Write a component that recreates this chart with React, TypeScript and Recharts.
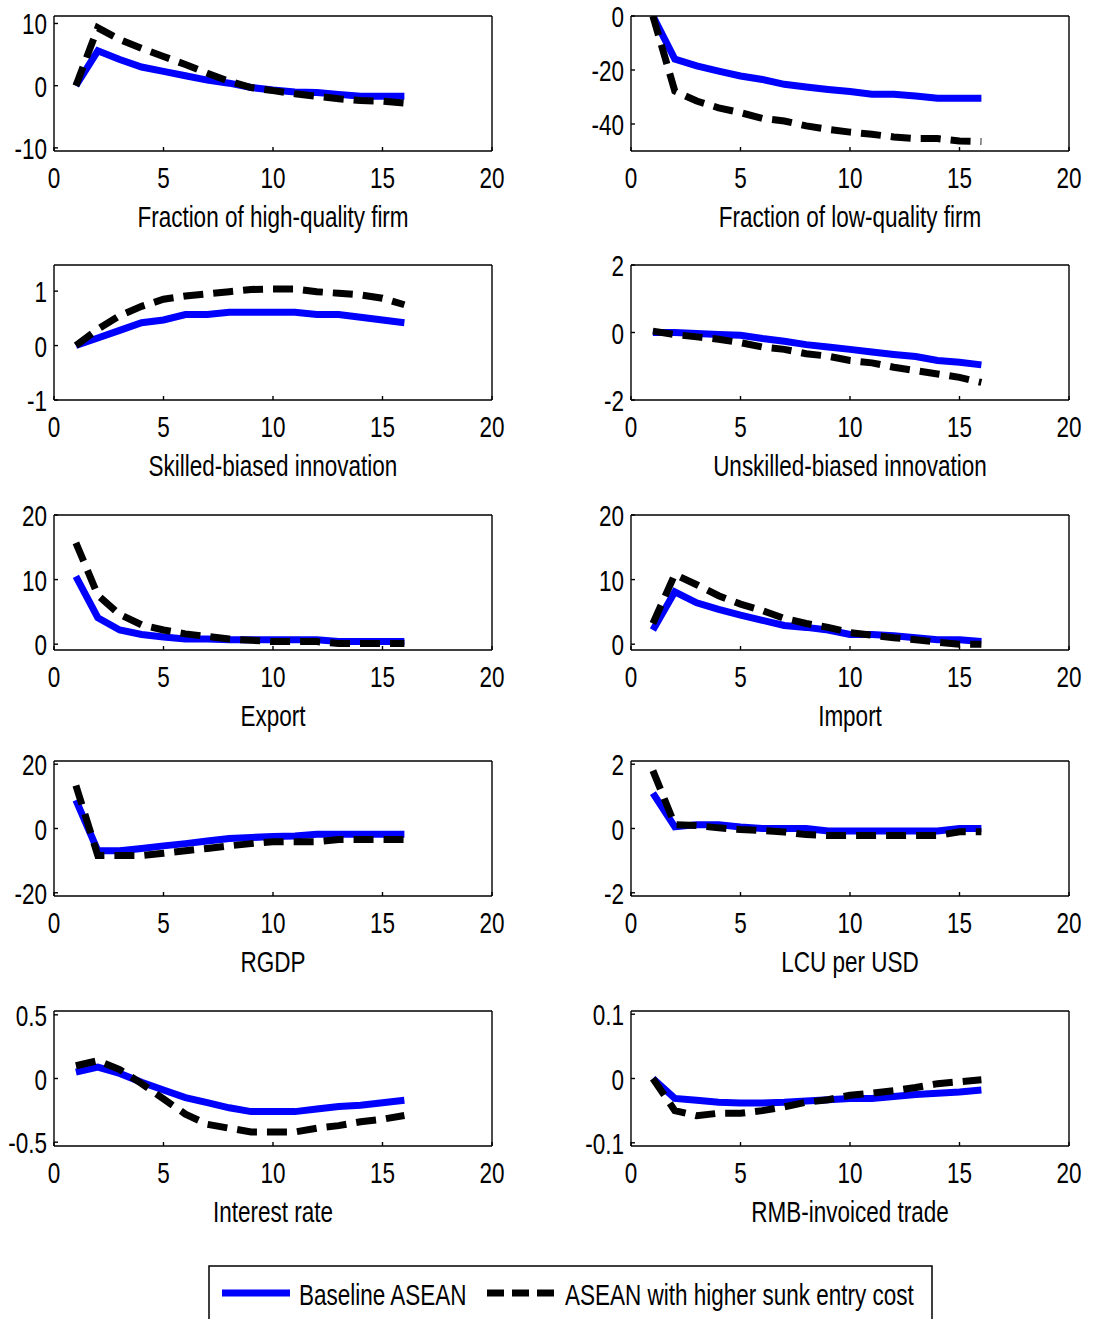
import { Line, LineChart, XAxis, YAxis } from 'recharts';

// Impulse responses, periods 1..16. Baseline vs higher sunk entry cost.
const PERIODS = [1, 2, 3, 4, 5, 6, 7, 8, 9, 10, 11, 12, 13, 14, 15, 16];
const X_TICKS = [0, 5, 10, 15, 20];
const SERIES_NAMES = ['Baseline ASEAN', 'ASEAN with higher sunk entry cost'];

const highQualityBase = [0, 5.6, 4.2, 3.0, 2.3, 1.6, 0.9, 0.4, -0.3, -0.7, -1.0, -1.1, -1.4, -1.7, -1.7, -1.7];
const highQualityCost = [0, 9.3, 7.4, 6.0, 4.7, 3.4, 2.0, 0.7, -0.3, -0.8, -1.3, -1.7, -2.1, -2.4, -2.5, -2.8];

const lowQualityBase = [0, -16, -18.5, -20.4, -22.2, -23.5, -25.3, -26.3, -27.2, -28, -29, -29, -29.6, -30.5, -30.5, -30.5];
const lowQualityCost = [0, -27.8, -31.5, -34, -35.8, -37.9, -38.9, -40.7, -42, -43, -43.8, -44.8, -45.4, -45.4, -46.3, -46.5];

const skilledBase = [0, 0.14, 0.28, 0.42, 0.47, 0.57, 0.57, 0.61, 0.61, 0.61, 0.61, 0.57, 0.57, 0.52, 0.47, 0.42];
const skilledCost = [0, 0.3, 0.55, 0.72, 0.85, 0.91, 0.95, 0.99, 1.03, 1.04, 1.04, 0.99, 0.96, 0.93, 0.87, 0.75];

const unskilledBase = [0, 0, -0.03, -0.06, -0.08, -0.18, -0.26, -0.36, -0.43, -0.5, -0.58, -0.65, -0.71, -0.83, -0.88, -0.96];
const unskilledCost = [0.04, -0.06, -0.13, -0.2, -0.3, -0.43, -0.5, -0.63, -0.7, -0.83, -0.9, -1.03, -1.13, -1.23, -1.33, -1.48];

const exportBase = [10.5, 4.1, 2.2, 1.5, 1.1, 0.8, 0.8, 0.7, 0.7, 0.7, 0.7, 0.7, 0.4, 0.4, 0.4, 0.4];
const exportCost = [15.7, 7.6, 4.6, 3.0, 2.2, 1.6, 1.2, 0.8, 0.6, 0.4, 0.4, 0.4, 0.1, 0.1, 0.1, 0.1];

const importBase = [2.2, 8.1, 6.4, 5.4, 4.5, 3.7, 2.9, 2.6, 2.2, 1.5, 1.5, 1.3, 1.0, 0.7, 0.7, 0.4];
const importCost = [3.2, 10.8, 9.2, 7.5, 6.2, 5.2, 4.0, 3.2, 2.6, 1.8, 1.4, 1.0, 0.7, 0.3, 0, 0];

const rgdpBase = [8.8, -6.9, -6.9, -6.2, -5.4, -4.7, -3.9, -3.1, -2.8, -2.5, -2.3, -1.8, -1.8, -1.8, -1.8, -1.8];
const rgdpCost = [13.4, -8.4, -8.4, -8.4, -7.7, -6.9, -6.2, -5.4, -4.7, -4.1, -4.1, -4.1, -3.4, -3.4, -3.4, -3.4];

const lcuBase = [1.1, 0.05, 0.12, 0.12, 0.05, 0, 0, 0, -0.08, -0.08, -0.08, -0.08, -0.08, -0.08, 0, 0];
const lcuCost = [1.8, 0.12, 0.09, 0.02, -0.03, -0.06, -0.11, -0.19, -0.22, -0.22, -0.22, -0.22, -0.22, -0.22, -0.1, -0.1];

const rateBase = [0.05, 0.09, 0.04, -0.03, -0.09, -0.15, -0.19, -0.23, -0.26, -0.26, -0.26, -0.24, -0.22, -0.21, -0.19, -0.17];
const rateCost = [0.1, 0.14, 0.07, -0.04, -0.16, -0.28, -0.36, -0.39, -0.42, -0.42, -0.42, -0.39, -0.37, -0.34, -0.32, -0.29];

const rmbBase = [0, -0.031, -0.034, -0.037, -0.038, -0.038, -0.037, -0.035, -0.033, -0.031, -0.031, -0.028, -0.025, -0.023, -0.021, -0.018];
const rmbCost = [0, -0.05, -0.058, -0.054, -0.054, -0.05, -0.044, -0.037, -0.033, -0.026, -0.023, -0.019, -0.014, -0.008, -0.005, -0.002];

const PANELS = [
  { title: 'Fraction of high-quality firm', domain: [-10.5, 11.2], ticks: [-10, 0, 10], base: highQualityBase, cost: highQualityCost },
  { title: 'Fraction of low-quality firm', domain: [-50, 0], ticks: [-40, -20, 0], base: lowQualityBase, cost: lowQualityCost },
  { title: 'Skilled-biased innovation', domain: [-1, 1.48], ticks: [-1, 0, 1], base: skilledBase, cost: skilledCost },
  { title: 'Unskilled-biased innovation', domain: [-2, 2], ticks: [-2, 0, 2], base: unskilledBase, cost: unskilledCost },
  { title: 'Export', domain: [-0.9, 20], ticks: [0, 10, 20], base: exportBase, cost: exportCost },
  { title: 'Import', domain: [-0.9, 20], ticks: [0, 10, 20], base: importBase, cost: importCost },
  { title: 'RGDP', domain: [-21, 21], ticks: [-20, 0, 20], base: rgdpBase, cost: rgdpCost },
  { title: 'LCU per USD', domain: [-2.1, 2.1], ticks: [-2, 0, 2], base: lcuBase, cost: lcuCost },
  { title: 'Interest rate', domain: [-0.53, 0.53], ticks: [-0.5, 0, 0.5], base: rateBase, cost: rateCost },
  { title: 'RMB-invoiced trade', domain: [-0.105, 0.105], ticks: [-0.1, 0, 0.1], base: rmbBase, cost: rmbCost },
];

// layout (px, page coordinates)
const PLOT_TOPS = [16, 265, 515, 761, 1011];
const PLOT_LEFTS = [54, 631];
const PLOT_W = 438;
const PLOT_H = 135;
const MARGIN_TOP = 24;
const AXIS_W = 54;
const BOTTOM_H = 90;
const CHART_W = AXIS_W + PLOT_W + 24;
const CHART_H = MARGIN_TOP + PLOT_H + BOTTOM_H;

const FONT = '"Liberation Sans", Arial, Helvetica, sans-serif';
const SQUEEZE = 0.75;
const BLUE = '#0000ff';
const DASH = '20 10';
const LINE_W = 7;

function XTick(props: any) {
  const { x, y, payload } = props;
  return (
    <text
      transform={`translate(${x},${y + 37}) scale(${SQUEEZE},1)`}
      textAnchor="middle"
      fontSize={30}
      fontFamily={FONT}
      fill="#000"
    >
      {payload.value}
    </text>
  );
}

function YTick(props: any) {
  const { x, y, payload } = props;
  return (
    <text
      transform={`translate(${x},${y + 11}) scale(${SQUEEZE},1)`}
      textAnchor="end"
      fontSize={30}
      fontFamily={FONT}
      fill="#000"
    >
      {payload.value}
    </text>
  );
}

function Panel({ panel, left, top }: { panel: (typeof PANELS)[number]; left: number; top: number }) {
  const rows = PERIODS.map((t, i) => ({ t, base: panel.base[i], cost: panel.cost[i] }));
  const titleLabel = (p: any) => {
    const vb = p.viewBox;
    return (
      <text
        transform={`translate(${vb.x + vb.width / 2},${vb.y + 76}) scale(${SQUEEZE},1)`}
        textAnchor="middle"
        fontSize={30}
        fontFamily={FONT}
        fill="#000"
      >
        {panel.title}
      </text>
    );
  };
  const axisLine = { stroke: '#000', strokeWidth: 1.4 };
  const tickLine = { stroke: '#000', strokeWidth: 1.4 };
  return (
    <div style={{ position: 'absolute', left: left - AXIS_W, top: top - MARGIN_TOP }}>
      <LineChart width={CHART_W} height={CHART_H} data={rows} margin={{ top: MARGIN_TOP - 1, right: CHART_W - AXIS_W - PLOT_W - 1, bottom: 0, left: 0 }}>
        <XAxis
          xAxisId="main"
          dataKey="t"
          type="number"
          domain={[0, 20]}
          ticks={X_TICKS}
          allowDataOverflow
          height={BOTTOM_H}
          tickSize={-4}
          tickMargin={4}
          tick={<XTick />}
          axisLine={axisLine}
          tickLine={tickLine}
          interval={0}
          label={titleLabel}
        />
        <XAxis
          xAxisId="top"
          dataKey="t"
          orientation="top"
          type="number"
          domain={[0, 20]}
          ticks={X_TICKS}
          allowDataOverflow
          height={1}
          tickSize={-4}
          tick={false}
          axisLine={axisLine}
          tickLine={tickLine}
          interval={0}
        />
        <YAxis
          yAxisId="main"
          type="number"
          domain={panel.domain}
          ticks={panel.ticks}
          allowDataOverflow
          width={AXIS_W}
          tickSize={-4}
          tickMargin={11}
          tick={<YTick />}
          axisLine={axisLine}
          tickLine={tickLine}
          interval={0}
        />
        <YAxis
          yAxisId="right"
          orientation="right"
          type="number"
          domain={panel.domain}
          ticks={panel.ticks}
          allowDataOverflow
          width={1}
          tickSize={-4}
          tick={false}
          axisLine={axisLine}
          tickLine={tickLine}
          interval={0}
        />
        <Line
          xAxisId="main"
          yAxisId="main"
          type="linear"
          dataKey="base"
          name={SERIES_NAMES[0]}
          stroke={BLUE}
          strokeWidth={LINE_W}
          dot={false}
          isAnimationActive={false}
        />
        <Line
          xAxisId="main"
          yAxisId="main"
          type="linear"
          dataKey="cost"
          name={SERIES_NAMES[1]}
          stroke="#000"
          strokeWidth={LINE_W}
          strokeDasharray={DASH}
          dot={false}
          isAnimationActive={false}
        />
      </LineChart>
    </div>
  );
}

function LegendBox() {
  const txt = (x: number, s: string) => (
    <text transform={`translate(${x},40) scale(${SQUEEZE},1)`} fontSize={30} fontFamily={FONT} fill="#000">
      {s}
    </text>
  );
  return (
    <svg style={{ position: 'absolute', left: 208, top: 1265 }} width={726} height={60}>
      <rect x={1} y={1} width={723} height={70} fill="#fff" stroke="#000" strokeWidth={1.5} />
      <line x1={14} x2={82} y1={28} y2={28} stroke={BLUE} strokeWidth={LINE_W} />
      {txt(91, SERIES_NAMES[0])}
      <line x1={279} x2={347} y1={28} y2={28} stroke="#000" strokeWidth={LINE_W} strokeDasharray="17 8" />
      {txt(357, SERIES_NAMES[1])}
    </svg>
  );
}

export default function App() {
  return (
    <div style={{ position: 'absolute', left: 0, top: 0, width: 1093, height: 1319, background: '#fff', overflow: 'hidden' }}>
      {PANELS.map((p, i) => (
        <Panel key={p.title} panel={p} left={PLOT_LEFTS[i % 2]} top={PLOT_TOPS[Math.floor(i / 2)]} />
      ))}
      <LegendBox />
    </div>
  );
}
